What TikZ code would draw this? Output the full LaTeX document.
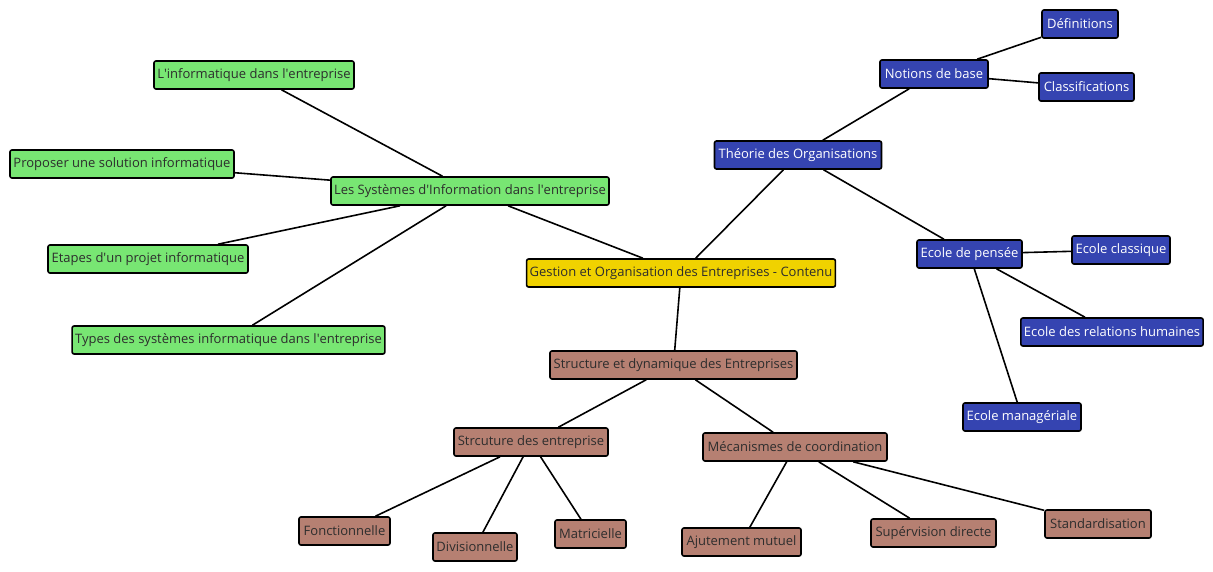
\documentclass[tikz,border=0pt]{standalone}
\usepackage{fontspec}
\setmainfont{Open Sans}
\newcommand{\ap}{\textquotesingle}
\definecolor{gfill}{RGB}{120,230,115}
\definecolor{yfill}{RGB}{240,210,0}
\definecolor{bfill}{RGB}{53,68,177}
\definecolor{rfill}{RGB}{182,128,114}
\definecolor{txt}{RGB}{45,45,45}
\tikzset{
  box/.style={draw=black, line width=1.6pt, rounded corners=2pt, minimum height=28pt,
    inner xsep=3pt, inner ysep=0pt, font=\fontsize{13}{15}\selectfont, text=txt},
  rootbox/.style={box, fill=yfill},
  greenbox/.style={box, fill=gfill},
  bluebox/.style={box, fill=bfill, text=white},
  brownbox/.style={box, fill=rfill},
  link/.style={line width=1.6pt, draw=black}
}
\begin{document}
\begin{tikzpicture}[x=1pt, y=-1pt]
\useasboundingbox (0,0) rectangle (1213,571);

% root
\node[rootbox, minimum width=308pt] (root) at (681,273) {Gestion et Organisation des Entreprises - Contenu};

% information systems branch
\node[greenbox, minimum width=278pt] (si) at (470,191) {Les Systèmes d\ap{}Information dans l\ap{}entreprise};
\node[greenbox, minimum width=200pt] (info) at (254,75) {L\ap{}informatique dans l\ap{}entreprise};
\node[greenbox, minimum width=224pt] (prop) at (122,164) {Proposer une solution informatique};
\node[greenbox, minimum width=200pt] (etap) at (148,259) {Etapes d\ap{}un projet informatique};
\node[greenbox, minimum width=311pt] (types) at (228.5,340) {Types des systèmes informatique dans l\ap{}entreprise};

% organisation theory branch
\node[bluebox, minimum width=167pt] (theo) at (798,155) {Théorie des Organisations};
\node[bluebox, minimum width=108pt] (notions) at (934,74) {Notions de base};
\node[bluebox, minimum width=76pt] (def) at (1080,24) {Définitions};
\node[bluebox, minimum width=95pt] (classif) at (1086.5,87) {Classifications};
\node[bluebox, minimum width=105pt] (ecole) at (969.5,254) {Ecole de pensée};
\node[bluebox, minimum width=98pt] (classique) at (1121,250) {Ecole classique};
\node[bluebox, minimum width=182pt] (relations) at (1112,332) {Ecole des relations humaines};
\node[bluebox, minimum width=118pt] (manag) at (1022,417) {Ecole managériale};

% structure branch
\node[brownbox, minimum width=247pt] (struct) at (673.5,365) {Structure et dynamique des Entreprises};
\node[brownbox, minimum width=154pt] (strc) at (531,442) {Strcuture des entreprise};
\node[brownbox, minimum width=184pt] (meca) at (795,447) {Mécanismes de coordination};
\node[brownbox, minimum width=91pt] (fonc) at (344.5,531) {Fonctionnelle};
\node[brownbox, minimum width=84pt] (divi) at (475,547) {Divisionnelle};
\node[brownbox, minimum width=71pt] (matr) at (590.5,534) {Matricielle};
\node[brownbox, minimum width=119pt] (ajut) at (741.5,542) {Ajutement mutuel};
\node[brownbox, minimum width=125pt] (superv) at (933.5,533) {Supérvision directe};
\node[brownbox, minimum width=106pt] (stand) at (1098,524) {Standardisation};

% connectors
\draw[link] (root) -- (si);
\draw[link] (si) -- (info);
\draw[link] (si) -- (prop);
\draw[link] (si) -- (etap);
\draw[link] (si) -- (types);
\draw[link] (root) -- (theo);
\draw[link] (theo) -- (notions);
\draw[link] (notions) -- (def);
\draw[link] (notions) -- (classif);
\draw[link] (theo) -- (ecole);
\draw[link] (ecole) -- (classique);
\draw[link] (ecole) -- (relations);
\draw[link] (ecole) -- (manag);
\draw[link] (root) -- (struct);
\draw[link] (struct) -- (strc);
\draw[link] (struct) -- (meca);
\draw[link] (strc) -- (fonc);
\draw[link] (strc) -- (divi);
\draw[link] (strc) -- (matr);
\draw[link] (meca) -- (ajut);
\draw[link] (meca) -- (superv);
\draw[link] (meca) -- (stand);
\end{tikzpicture}
\end{document}
